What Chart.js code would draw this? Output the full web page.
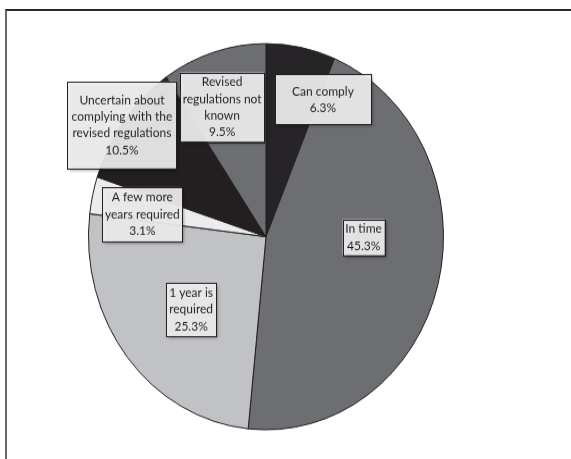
<!DOCTYPE html>
<html>
<head>
<meta charset="utf-8">
<script src="https://cdn.jsdelivr.net/npm/chart.js@4/dist/chart.umd.min.js"></script>
<style>
    html, body { margin: 0; padding: 0; background: #fff; }
    body { width: 571px; height: 459px; position: relative; overflow: hidden; }
    /* khung cắt: chỉ thấy cạnh trên và cạnh trái */
    #frame {
        position: absolute; left: 5px; top: 9px; width: 700px; height: 600px;
        border-top: 2px solid #2b2b2b; border-left: 2px solid #6a6a6a;
    }
    #wrap {
        position: absolute; left: 0; top: 0; width: 571px; height: 422px;
        transform: scaleY(1.0877); transform-origin: 0 0;
    }
</style>
</head>
<body>
<div id="frame"></div>
<div id="wrap"><canvas id="pie" width="571" height="422"></canvas></div>
<script>
// Dữ liệu
const categories = [
    'Can comply',
    'In time',
    '1 year is required',
    'A few more years required',
    'Uncertain about complying with the revised regulations',
    'Revised regulations not known'
];
const shares = [6.3, 45.3, 25.3, 3.1, 10.5, 9.5];
const labelLines = [
    ['Can comply'],
    ['In time'],
    ['1 year is', 'required'],
    ['A few more', 'years required'],
    ['Uncertain about', 'complying with the', 'revised regulations'],
    ['Revised', 'regulations not', 'known']
];
const sliceColors = ['#262426', '#6d6e71', '#c1c2c5', '#ececed', '#231f20', '#6d6e71'];

// Vị trí hộp nhãn: góc (độ, theo chiều kim đồng hồ từ đỉnh), tỉ lệ bán kính, kích thước hộp
const labelBoxes = [
    { deg: 24.3,  rf: 0.78,  w: 96,  h: 46 },
    { deg: 90.3,  rf: 0.55,  w: 42,  h: 33 },
    { deg: 228.2, rf: 0.566, w: 50,  h: 49 },
    { deg: 279.5, rf: 0.706, w: 80,  h: 50 },
    { deg: 305.5, rf: 0.997, w: 109, h: 80 },
    { deg: 339.8, rf: 0.716, w: 84,  h: 63.5 }
];

const FONT = '12px Lato';
const LINE_H = 15.4;

const labelBoxPlugin = {
    id: 'labelBoxes',
    afterDatasetsDraw(chart) {
        const ctx = chart.ctx;
        const arcs = chart.getDatasetMeta(0).data;
        arcs.forEach((arc, i) => {
            const box = labelBoxes[i];
            const a = box.deg * Math.PI / 180;
            const cx = arc.x + Math.sin(a) * arc.outerRadius * box.rf;
            const cy = arc.y - Math.cos(a) * arc.outerRadius * box.rf;
            const x0 = cx - box.w / 2, y0 = cy - box.h / 2;

            ctx.save();
            ctx.shadowColor = 'rgba(0,0,0,0.45)';
            ctx.shadowBlur = 3;
            ctx.shadowOffsetX = 2;
            ctx.shadowOffsetY = 2;
            ctx.fillStyle = 'rgba(240,240,241,0.92)';
            ctx.fillRect(x0, y0, box.w, box.h);
            ctx.restore();

            ctx.save();
            ctx.strokeStyle = '#231f20';
            ctx.lineWidth = 1;
            ctx.strokeRect(Math.round(x0) + 0.5, Math.round(y0) + 0.5, Math.round(box.w), Math.round(box.h));

            const lines = labelLines[i].concat([shares[i].toFixed(1) + '%']);
            ctx.fillStyle = '#231f20';
            ctx.font = FONT;
            ctx.textAlign = 'center';
            ctx.textBaseline = 'middle';
            const top = cy - (lines.length - 1) * LINE_H / 2;
            lines.forEach((t, k) => ctx.fillText(t, cx, top + k * LINE_H));
            ctx.restore();
        });
    }
};

new Chart(document.getElementById('pie'), {
    type: 'pie',
    data: {
        labels: categories,
        datasets: [{
            data: shares,
            backgroundColor: sliceColors,
            borderColor: '#231f20',
            borderWidth: 1
        }]
    },
    options: {
        responsive: false,
        animation: false,
        layout: { padding: { left: 88, right: 127, top: 39.6, bottom: 26.4 } },
        plugins: {
            legend: { display: false },
            tooltip: { enabled: false }
        }
    },
    plugins: [labelBoxPlugin]
});
</script>
</body>
</html>
